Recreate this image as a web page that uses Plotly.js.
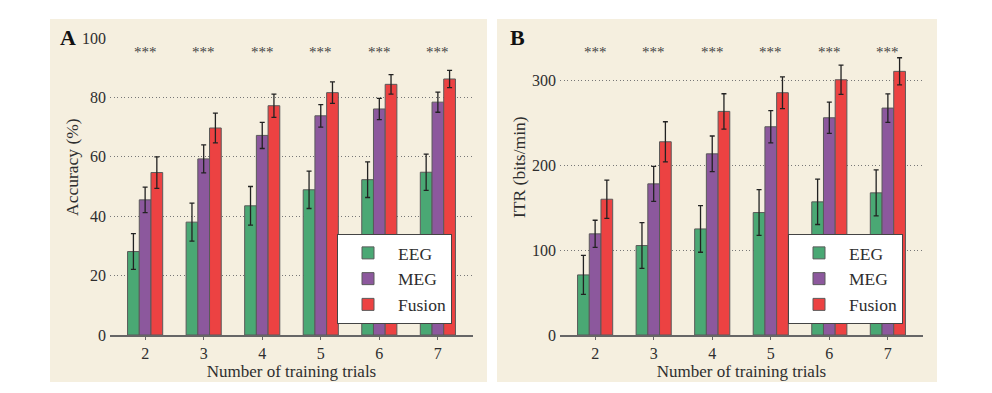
<!DOCTYPE html>
<html>
<head>
<meta charset="utf-8">
<script src="https://cdn.plot.ly/plotly-3.0.1.min.js"></script>
<style>html,body{margin:0;padding:0;background:#fff;}#chart{width:992px;height:393px;}</style>
</head>
<body>
<div id="chart"></div>
<script>
// ---- data ----
const trials = [2, 3, 4, 5, 6, 7];
const accEEG = [28.1, 38.0, 43.5, 48.9, 52.3, 54.8];
const accEEGErr = [6.0, 6.4, 6.5, 6.3, 6.0, 6.1];
const accMEG = [45.5, 59.3, 67.2, 73.8, 76.1, 78.4];
const accMEGErr = [4.3, 4.7, 4.4, 3.8, 3.6, 3.4];
const accFusion = [54.7, 69.7, 77.2, 81.6, 84.4, 86.2];
const accFusionErr = [5.3, 5.0, 3.9, 3.6, 3.3, 2.9];
const itrEEG = [70.8, 105.4, 125.0, 144.3, 156.9, 167.5];
const itrEEGErr = [23.0, 27.0, 27.5, 27.0, 26.7, 27.0];
const itrMEG = [119.2, 178.1, 213.5, 245.4, 256.0, 267.4];
const itrMEGErr = [16.0, 20.6, 21.0, 19.0, 18.5, 16.8];
const itrFusion = [160.0, 227.7, 263.5, 285.5, 300.8, 310.7];
const itrFusionErr = [22.6, 23.6, 20.8, 18.7, 17.3, 16.0];
const sigLabels = ["***", "***", "***", "***", "***", "***"];
const seriesNames = ["EEG", "MEG", "Fusion"];

// ---- styles ----
const colors = ["#4aa874", "#8c589d", "#ec4242"];
const FONT = "Liberation Serif, Times New Roman, serif";
const TXT = "#2e2e2e";

function barTrace(name, y, err, color, xa, ya, legend) {
  return {
    type: "bar", name: name, x: trials, y: y,
    xaxis: xa, yaxis: ya, legend: legend,
    marker: {color: color, line: {color: "#5a5a5a", width: 1}},
    error_y: {type: "data", array: err, visible: true, color: "#222222", thickness: 1.3, width: 2.5}
  };
}

const data = [
  barTrace(seriesNames[0], accEEG, accEEGErr, colors[0], "x", "y", "legend"),
  barTrace(seriesNames[1], accMEG, accMEGErr, colors[1], "x", "y", "legend"),
  barTrace(seriesNames[2], accFusion, accFusionErr, colors[2], "x", "y", "legend"),
  barTrace(seriesNames[0], itrEEG, itrEEGErr, colors[0], "x2", "y2", "legend2"),
  barTrace(seriesNames[1], itrMEG, itrMEGErr, colors[1], "x2", "y2", "legend2"),
  barTrace(seriesNames[2], itrFusion, itrFusionErr, colors[2], "x2", "y2", "legend2")
];

const W = 992, H = 393;
const px = v => v / W, py = v => 1 - v / H;

function xAxis(domain, anchor) {
  return {
    domain: domain, anchor: anchor, range: [1.4, 7.6],
    tickmode: "array", tickvals: trials, ticktext: trials.map(String),
    showline: true, linecolor: "#666666", linewidth: 1.5,
    ticks: "outside", ticklen: 3, tickcolor: "#666666",
    showgrid: false, zeroline: false,
    tickfont: {family: FONT, size: 16, color: TXT},
    title: {text: "Number of training trials", font: {family: FONT, size: 17, color: TXT}, standoff: 0}
  };
}
function yAxis(domain, anchor, range, dtick) {
  return {
    domain: domain, anchor: anchor, range: range, dtick: dtick,
    showline: false, ticks: "", zeroline: false,
    showgrid: true, gridcolor: "#777777", griddash: "1px,2.5px", gridwidth: 1,
    tickfont: {family: FONT, size: 16, color: TXT}, ticklabelstandoff: 3
  };
}

const yDom = [(H - 335) / H, (H - 38) / H];
const legendStyle = (x) => ({
  x: x, y: py(234), xref: "paper", yref: "paper", xanchor: "left", yanchor: "top",
  bgcolor: "#ffffff", bordercolor: "#444444", borderwidth: 1,
  font: {family: FONT, size: 17.5, color: TXT}, itemwidth: 50, tracegroupgap: 0
});

const annotations = [];
trials.forEach((t, i) => {
  annotations.push({x: t, y: 95.2, xref: "x", yref: "y", text: sigLabels[i], showarrow: false,
    xanchor: "center", yanchor: "middle", font: {family: FONT, size: 15, color: "#444444"}});
  annotations.push({x: t, y: 334, xref: "x2", yref: "y2", text: sigLabels[i], showarrow: false,
    xanchor: "center", yanchor: "middle", font: {family: FONT, size: 15, color: "#444444"}});
});
function paperText(x, y, text, size, angle, color) {
  return {x: px(x), y: py(y), xref: "paper", yref: "paper", text: text, showarrow: false,
    xanchor: "center", yanchor: "middle", textangle: angle,
    font: {family: FONT, size: size, color: color}};
}
annotations.push(paperText(68, 38, "<b>A</b>", 22, 0, "#111111"));
annotations.push(paperText(517, 38, "<b>B</b>", 22, 0, "#111111"));
annotations.push(paperText(72, 167, "Accuracy (%)", 17.5, -90, TXT));
annotations.push(paperText(519, 167, "ITR (bits/min)", 17.5, -90, TXT));

const layout = {
  width: W, height: H, margin: {l: 0, r: 0, t: 0, b: 0},
  paper_bgcolor: "#ffffff", plot_bgcolor: "rgba(0,0,0,0)",
  barmode: "group", bargap: 0.4, bargroupgap: 0,
  showlegend: true,
  xaxis: xAxis([px(110), px(473)], "y"),
  yaxis: yAxis(yDom, "x", [0, 100], 20),
  xaxis2: xAxis([px(560), px(923)], "y2"),
  yaxis2: yAxis(yDom, "x2", [0, 350], 100),
  legend: legendStyle(px(337)),
  legend2: legendStyle(px(788)),
  shapes: [
    {type: "rect", xref: "paper", yref: "paper", x0: px(50), x1: px(487), y0: py(382), y1: py(19),
      fillcolor: "#f5efdf", line: {width: 0}, layer: "below"},
    {type: "rect", xref: "paper", yref: "paper", x0: px(497), x1: px(937), y0: py(382), y1: py(19),
      fillcolor: "#f5efdf", line: {width: 0}, layer: "below"}
  ],
  annotations: annotations
};

Plotly.newPlot("chart", data, layout, {displayModeBar: false, staticPlot: true});
</script>
</body>
</html>
